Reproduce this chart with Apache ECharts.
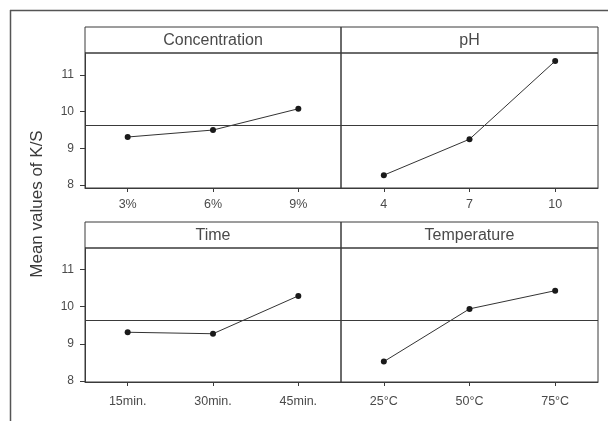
<!DOCTYPE html>
<html>
<head>
<meta charset="utf-8">
<script src="https://cdn.jsdelivr.net/npm/echarts@6/dist/echarts.min.js"></script>
<style>html,body{margin:0;padding:0;background:#fff;}#c{width:608px;height:421px;}</style>
</head>
<body>
<div id="c"></div>
<script>
// ---- data ----
const panelTitles = ['Concentration', 'pH', 'Time', 'Temperature'];
const concLabels = ['3%', '6%', '9%'];
const concValues = [9.31, 9.50, 10.08];
const phLabels = ['4', '7', '10'];
const phValues = [8.27, 9.25, 11.38];
const timeLabels = ['15min.', '30min.', '45min.'];
const timeValues = [9.31, 9.27, 10.29];
const tempLabels = ['25°C', '50°C', '75°C'];
const tempValues = [8.52, 9.94, 10.43];
const yTickValues = [8, 9, 10, 11];
const grandMean = 9.64;
const yTitle = 'Mean values of K/S';

// ---- layout ----
const FONT = 'Liberation Sans, Arial, sans-serif';
const INK = '#3a3a3a';
const TXT = '#4a4a4a';
const cols = [{x: 85, w: 256}, {x: 341, w: 257}];
const rows = [
  {top: 27, strip: 26, plotTop: 53, h: 135, min: 7.92, max: 11.6, lm: 10},
  {top: 222, strip: 26, plotTop: 248, h: 134, min: 7.97, max: 11.58, lm: 13}
];
const panels = [
  {labels: concLabels, values: concValues, r: 0, c: 0},
  {labels: phLabels, values: phValues, r: 0, c: 1},
  {labels: timeLabels, values: timeValues, r: 1, c: 0},
  {labels: tempLabels, values: tempValues, r: 1, c: 1}
];

const grid = [], xAxis = [], yAxis = [], series = [], graphic = [];
panels.forEach((p, i) => {
  const col = cols[p.c], row = rows[p.r];
  grid.push({left: col.x, top: row.plotTop, width: col.w, height: row.h,
    show: true, borderColor: INK, borderWidth: 1, backgroundColor: 'transparent'});
  xAxis.push({type: 'category', gridIndex: i, data: p.labels, boundaryGap: true,
    axisLine: {show: true, lineStyle: {color: INK, width: 1}},
    axisTick: {show: true, alignWithLabel: true, length: 4, lineStyle: {color: INK}},
    axisLabel: {color: TXT, fontFamily: FONT, fontSize: 12.5, margin: row.lm},
    splitLine: {show: false}});
  yAxis.push({type: 'value', gridIndex: i, min: row.min, max: row.max,
    show: p.c === 0,
    axisLine: {show: true, lineStyle: {color: INK, width: 1}},
    axisTick: {show: true, length: 5, customValues: yTickValues, lineStyle: {color: INK}},
    axisLabel: {color: TXT, fontFamily: FONT, fontSize: 12, margin: 11, customValues: yTickValues},
    splitLine: {show: false}});
  series.push({type: 'line', xAxisIndex: i, yAxisIndex: i, data: p.values,
    symbol: 'circle', symbolSize: 6, itemStyle: {color: '#1a1a1a'},
    lineStyle: {color: '#333', width: 1}, animation: false,
    markLine: {silent: true, symbol: 'none', animation: false, label: {show: false},
      lineStyle: {color: INK, width: 1, type: 'solid'},
      data: [{yAxis: grandMean}]}});
  graphic.push({type: 'rect', shape: {x: col.x, y: row.top, width: col.w, height: row.strip},
    style: {fill: 'transparent', stroke: INK, lineWidth: 1}});
  graphic.push({type: 'text', x: col.x + col.w / 2, y: row.top + row.strip / 2 + 1,
    style: {text: panelTitles[i], fill: TXT, font: '16px ' + FONT,
      textAlign: 'center', textVerticalAlign: 'middle'}});
});
// outer frame (top and left edges of the figure border)
graphic.push({type: 'line', shape: {x1: 10, y1: 10.5, x2: 608, y2: 10.5}, style: {stroke: '#555', lineWidth: 1.5}});
graphic.push({type: 'line', shape: {x1: 10.5, y1: 10, x2: 10.5, y2: 421}, style: {stroke: '#555', lineWidth: 1.5}});
// y-axis title
graphic.push({type: 'text', x: 37, y: 204, rotation: Math.PI / 2,
  style: {text: yTitle, fill: '#3a3a3a', font: '17px ' + FONT, textAlign: 'center', textVerticalAlign: 'middle'}});

const chart = echarts.init(document.getElementById('c'), null, {renderer: 'canvas'});
chart.setOption({backgroundColor: '#fff', animation: false, grid, xAxis, yAxis, series, graphic});
</script>
</body>
</html>
